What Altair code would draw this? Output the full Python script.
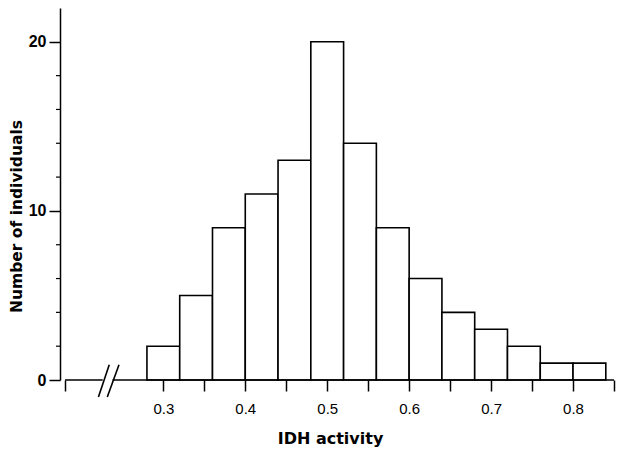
import altair as alt
import pandas as pd

# Histogram data
bin_start = [0.28, 0.32, 0.36, 0.40, 0.44, 0.48, 0.52, 0.56, 0.60, 0.64, 0.68, 0.72, 0.76, 0.80]
bin_end = [0.32, 0.36, 0.40, 0.44, 0.48, 0.52, 0.56, 0.60, 0.64, 0.68, 0.72, 0.76, 0.80, 0.84]
counts = [2, 5, 9, 11, 13, 20, 14, 9, 6, 4, 3, 2, 1, 1]

x_tick_values = [0.18, 0.3, 0.35, 0.4, 0.45, 0.5, 0.55, 0.6, 0.65, 0.7, 0.75, 0.8, 0.85]
y_major = [0, 10, 20]
y_minor = [2, 4, 6, 8, 12, 14, 16, 18]

# Baseline segments (broken axis) and break marks
base_x = [0.18, 0.238]
base_x2 = [0.226, 0.85]
slash_x = [0.2208, 0.2316]
slash_x2 = [0.234, 0.2459]
slash_y = [-1.0, -1.0]
slash_y2 = [0.9, 0.9]

X_DOM = [0.18, 0.85]
Y_DOM = [0, 22]

bars_df = pd.DataFrame({"start": bin_start, "end": bin_end, "count": counts,
                        "zero": [0] * len(counts)})
base_df = pd.DataFrame({"start": base_x, "end": base_x2, "count": [0, 0]})
slash_df = pd.DataFrame({"start": slash_x, "end": slash_x2, "count": slash_y, "zero": slash_y2})
minor_df = pd.DataFrame({"count": y_minor})

xscale = alt.Scale(domain=X_DOM, nice=False, zero=False)
yscale = alt.Scale(domain=Y_DOM, nice=False)

x_axis = alt.Axis(
    values=x_tick_values,
    labelExpr="(abs(datum.value*10 - round(datum.value*10)) < 0.001 && datum.value > 0.25) ? format(datum.value, '.1f') : ''",
    domain=False, grid=False, ticks=True, tickSize=11, tickColor="black", tickWidth=1.5,
    labelFont="Liberation Sans", labelFontSize=15, labelColor="black", labelPadding=10,
    title="IDH  activity", titleFont="DejaVu Sans", titleFontSize=16, titleFontWeight="bold",
    titleColor="black", titlePadding=14, titleX=270,
)
y_axis = alt.Axis(
    values=y_major, domain=True, domainColor="black", domainWidth=1.5, grid=False,
    tickSize=11, tickColor="black", tickWidth=1.5,
    labelFont="Liberation Sans", labelFontSize=16, labelFontWeight="bold", labelColor="black",
    labelPadding=3,
    title="Number of individuals", titleFont="DejaVu Sans", titleFontSize=15.5, titleFontWeight="bold",
    titleColor="black", titleX=-44, titleY=208, titleAngle=270, titleAlign="center",
    titleBaseline="middle",
)

X = alt.X("start:Q", scale=xscale, axis=x_axis)
Y = alt.Y("count:Q", scale=yscale, axis=y_axis)

bars = alt.Chart(bars_df).mark_bar(fill="white", stroke="black", strokeWidth=1.6,
                                   orient="vertical").encode(
    x=X, x2="end:Q", y=Y, y2="zero:Q",
)

minor = alt.Chart(minor_df).mark_rule(color="black", strokeWidth=1.2).encode(
    y=Y, x=alt.value(-4), x2=alt.value(0),
)

base = alt.Chart(base_df).mark_rule(color="black", strokeWidth=1.6).encode(
    x=X, x2="end:Q", y=Y,
)

slashes = alt.Chart(slash_df).mark_rule(color="black", strokeWidth=1.6).encode(
    x=X, x2="end:Q", y=Y, y2="zero:Q",
)

chart = alt.layer(bars, base, slashes, minor).properties(
    width=559, height=372,
    background="white",
    padding={"left": 1, "top": 0, "right": 2, "bottom": 2},
).configure_view(stroke=None)

chart.save("out.html", embed_options={"renderer": "svg", "actions": False})
